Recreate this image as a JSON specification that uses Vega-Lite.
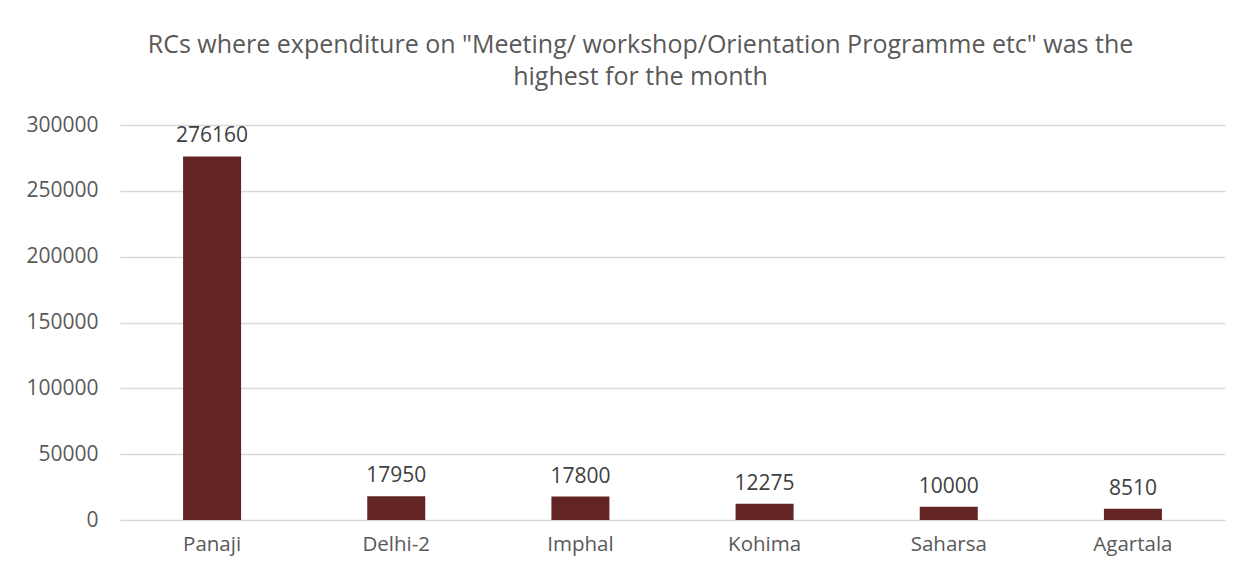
{
  "$schema": "https://vega.github.io/schema/vega-lite/v6.json",
  "autosize": {"type": "none"},
  "width": 1105,
  "height": 395,
  "padding": {"left": 120, "top": 125, "right": 25, "bottom": 57},
  "background": "white",
  "title": {
    "text": ["RCs where expenditure on \"Meeting/ workshop/Orientation Programme etc\" was the", "highest for the month"],
    "font": "Open Sans",
    "fontSize": 25,
    "fontWeight": "normal",
    "color": "#595959",
    "anchor": "middle",
    "dx": -32,
    "offset": 24,
    "lineHeight": 32
  },
  "data": {
    "values": [
      {"rc": "Panaji", "amount": 276160},
      {"rc": "Delhi-2", "amount": 17950},
      {"rc": "Imphal", "amount": 17800},
      {"rc": "Kohima", "amount": 12275},
      {"rc": "Saharsa", "amount": 10000},
      {"rc": "Agartala", "amount": 8510}
    ]
  },
  "encoding": {
    "x": {
      "field": "rc",
      "type": "nominal",
      "sort": null,
      "scale": {"paddingInner": 0.685, "paddingOuter": 0.3425},
      "axis": {
        "title": null,
        "labelAngle": 0,
        "labelFont": "Open Sans",
        "labelFontSize": 20.5,
        "labelColor": "#595959",
        "labelPadding": 14,
        "ticks": false,
        "domain": false
      }
    },
    "y": {
      "field": "amount",
      "type": "quantitative",
      "scale": {"domain": [0, 300000], "nice": false},
      "axis": {
        "title": null,
        "values": [0, 50000, 100000, 150000, 200000, 250000, 300000],
        "format": "d",
        "labelFont": "Open Sans",
        "labelFontSize": 21,
        "labelColor": "#595959",
        "labelPadding": 22,
        "ticks": false,
        "domain": false,
        "grid": true,
        "gridColor": "#d9d9d9",
        "gridWidth": 1.5
      }
    }
  },
  "layer": [
    {"mark": {"type": "bar", "color": "#632523"}},
    {
      "mark": {
        "type": "text",
        "baseline": "bottom",
        "dy": -10,
        "font": "Open Sans",
        "fontSize": 21,
        "color": "#404040"
      },
      "encoding": {"text": {"field": "amount", "type": "quantitative", "format": "d"}}
    }
  ],
  "config": {"view": {"stroke": null}}
}
